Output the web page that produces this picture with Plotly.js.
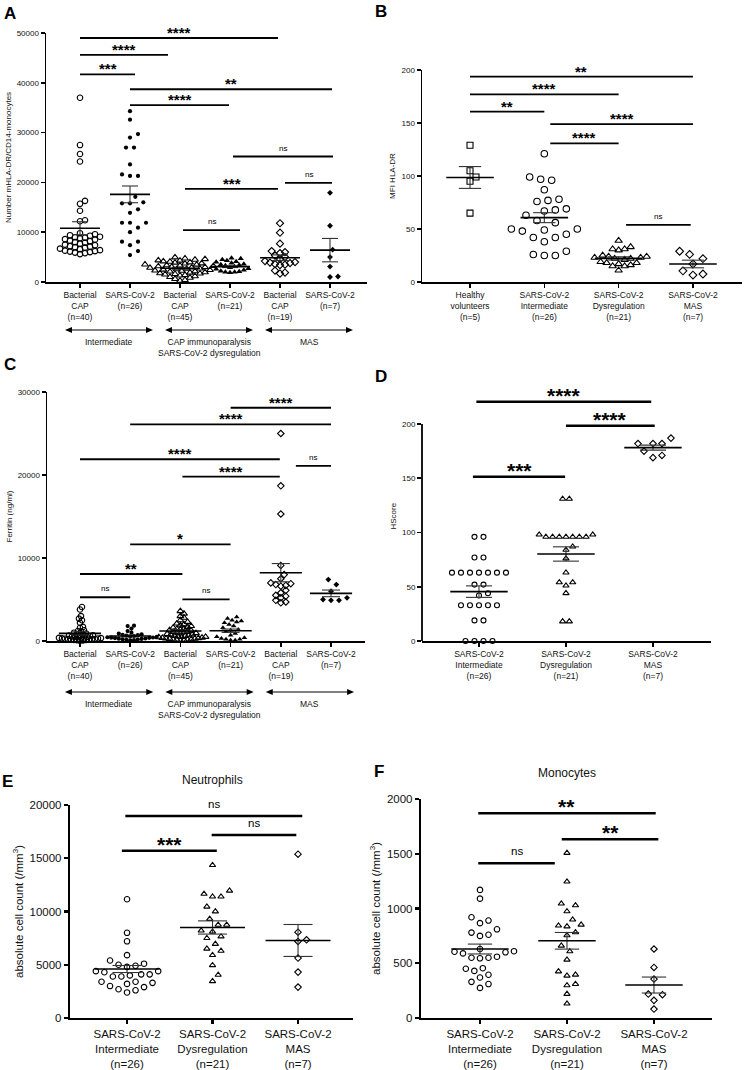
<!DOCTYPE html>
<html><head><meta charset="utf-8">
<script src="https://cdn.plot.ly/plotly-3.0.1.min.js"></script>
<style>html,body{margin:0;padding:0;background:#fff;}#chart{width:744px;height:1070px;}</style>
</head><body><div id="chart"></div>
<script>
// ================= DATA =================
// ---- Panel A : Number mHLA-DR/CD14-monocytes ----
const A_labels = ["Bacterial<br>CAP<br>(n=40)","SARS-CoV-2<br>(n=26)","Bacterial<br>CAP<br>(n=45)","SARS-CoV-2<br>(n=21)","Bacterial<br>CAP<br>(n=19)","SARS-CoV-2<br>(n=7)"];
const A_bacterialIntermediate = [37000,27500,25700,24200,16300,15700,14300,12400,12200,9800,9600,9400,9300,9100,9000,8900,8800,8600,8500,8300,8200,8000,7900,7700,7500,7400,7200,7100,7000,6900,6700,6600,6400,6300,6200,6100,6000,5900,5800,5600];
const A_sarsIntermediate = [34300,32600,29700,29000,27000,27000,23600,21600,21300,21300,17100,16000,15800,15800,14600,13900,11900,11900,11900,10900,10000,8100,8100,7400,6200,5400];
const A_bacterialImmunoparalysis = [4950,4720,4600,4480,4350,4300,4150,4080,3950,3900,3750,3700,3520,3480,3350,3300,3200,3150,3050,2980,2900,2850,2700,2650,2550,2480,2400,2300,2250,2150,2100,1950,1880,1750,1700,1600,1500,1420,1300,1150,1000,850,600,400,250];
const A_sarsDysregulation = [4800,4700,4500,4300,4100,4000,3800,3600,3500,3400,3300,3100,2900,2700,2600,2400,2200,2100,2000,2000,1900];
const A_bacterialMAS = [11800,9900,7700,6200,6000,5800,5300,5000,4600,4200,4000,3900,3800,3600,3500,3400,2300,1900,1700];
const A_sarsMAS = [17900,11300,6500,5000,3100,1100,1000];
const A_means = [10800,17600,2750,3080,4880,6400];
const A_sems = [1300,1680,200,180,560,2350];
const A_bracketFrom = [0,0,0,1,1,3.06,4.1,2.1,2.06];
const A_bracketTo = [3.96,1.76,1.1,5.04,2.98,5.06,5.04,3.96,3.2];
const A_bracketY = [49000,45600,41700,38700,35500,25200,19900,18700,10400];
const A_bracketLabel = ["****","****","***","**","****","ns","ns","***","ns"];
const A_groupLabels = ["Intermediate","CAP immunoparalysis<br>SARS-CoV-2 dysregulation","MAS"];

// ---- Panel B : MFI HLA-DR ----
const B_labels = ["Healthy<br>volunteers<br>(n=5)","SARS-CoV-2<br>Intermediate<br>(n=26)","SARS-CoV-2<br>Dysregulation<br>(n=21)","SARS-CoV-2<br>MAS<br>(n=7)"];
const B_healthy = [129,105,99,95,65];
const B_intermediate = [121,99,97,96,87,78,77,76,69,68,67,63,58,56,50,50,49,48,45,42,42,38,29,26,25,25];
const B_dysregulation = [39,33,31,31,30,25,24,24,23,23,22,22,21,19,18,18,17,16,15,15,11];
const B_mas = [29,26,22,17,10.5,7.5,6.5];
const B_means = [98.6,60.7,22.3,17];
const B_sems = [10.3,4.7,1.5,3.6];
const B_bracketFrom = [0,0,0,1.08,1.08,2.1];
const B_bracketTo = [3,2,1,3,2,2.97];
const B_bracketY = [193.7,177,160.7,149,130.8,53.8];
const B_bracketLabel = ["**","****","**","****","****","ns"];

// ---- Panel C : Ferritin (ng/ml) ----
const C_labels = A_labels;
const C_bacterialIntermediate = [4100,3800,3000,2700,2500,2200,1700,1600,1300,1200,1100,1000,900,850,800,750,700,650,600,550,500,480,450,420,400,380,350,320,300,280,250,220,200,180,160,140,120,100,80,50];
const C_sarsIntermediate = [1850,1800,1500,1200,1000,900,800,750,700,650,600,550,500,450,420,400,380,350,300,280,250,200,180,150,100,80];
const C_bacterialImmunoparalysis = [3600,3300,3000,2800,2500,2300,2100,2000,1900,1800,1700,1600,1500,1450,1400,1300,1250,1200,1100,1050,1000,950,900,850,800,750,700,650,600,550,500,480,450,400,380,350,300,280,250,200,180,150,120,100,60];
const C_sarsDysregulation = [2900,2700,2500,2400,2300,2200,2000,1800,1600,1400,1300,1100,900,700,500,400,300,200,200,100,100];
const C_bacterialMAS = [25000,18700,15300,9100,8000,7500,7000,6900,6800,6700,6600,6100,5800,5500,5400,5200,4900,4700,4600];
const C_sarsMAS = [7400,6800,6000,5200,5000,4900,4900];
const C_means = [920,600,1200,1240,8230,5740];
const C_sems = [190,110,130,200,1100,400];
const C_bracketFrom = [3,1,0,2.04,4.3,1,0,0,2.04];
const C_bracketTo = [5,5,3.98,3.98,5,3,2.04,1,2.98];
const C_bracketY = [28100,26100,21900,19800,21100,11650,8070,5270,5020];
const C_bracketLabel = ["****","****","****","****","ns","*","**","ns","ns"];
const C_groupLabels = A_groupLabels;

// ---- Panel D : HScore ----
const D_labels = ["SARS-CoV-2<br>Intermediate<br>(n=26)","SARS-CoV-2<br>Dysregulation<br>(n=21)","SARS-CoV-2<br>MAS<br>(n=7)"];
const D_intermediate = [96,96,77,77,63,63,63,63,63,63,63,52,52,44,42,33,33,33,33,33,19,19,0,0,0,0];
const D_dysregulation = [131,131,98,98,96,96,96,96,96,96,96,87,84,76,63,54,54,51,44,18,18];
const D_mas = [187,182,182,182,175,171,169];
const D_means = [45.5,80.2,178.2];
const D_sems = [5.3,6.6,2.3];
const D_bracketFrom = [-0.03,1,-0.07];
const D_bracketTo = [1.98,2.02,0.99];
const D_bracketY = [220.5,198.4,151.4];
const D_bracketLabel = ["****","****","***"];

// ---- Panel E : Neutrophils ----
const E_labels = D_labels;
const E_intermediate = [11150,8000,7200,5900,5400,5100,5000,4900,4800,4400,4400,4300,4100,4100,4000,3900,3900,3400,3400,3300,3200,3000,2900,2700,2600,2400];
const E_dysregulation = [14350,11650,11950,11400,11400,10450,10000,9300,8750,8750,8200,8100,7500,7650,6950,6300,6500,5900,4950,4050,3450];
const E_mas = [15380,8060,7340,7190,5630,4310,2900];
const E_means = [4600,8500,7280];
const E_sems = [330,620,1500];
const E_bracketFrom = [-0.02,0.99,-0.06];
const E_bracketTo = [2.05,1.98,1.05];
const E_bracketY = [18970,17180,15710];
const E_bracketLabel = ["ns","ns","***"];

// ---- Panel F : Monocytes ----
const F_labels = D_labels;
const F_intermediate = [1170,1090,890,866,920,810,760,750,780,600,590,605,610,630,560,545,550,550,430,450,455,370,395,330,310,275];
const F_dysregulation = [1507,1245,1044,1028,974,898,843,852,836,782,755,660,608,532,386,425,395,298,310,219,131];
const F_mas = [630,462,356,213,219,161,82];
const F_means = [630,705,301];
const F_sems = [45,76,73];
const F_bracketFrom = [-0.02,0.94,-0.02];
const F_bracketTo = [2.02,2.05,0.86];
const F_bracketY = [1869,1632,1413];
const F_bracketLabel = ["**","**","ns"];

// ================= DRAWING =================
const FONT = 'Arial, "Liberation Sans", Helvetica, sans-serif';
const W = 744, H = 1070;

const panels = [
  {letter:'A', letterPos:[2,13], box:[46,33,367,282], yrange:[0,50000], dtick:10000, xrange:[-0.68,5.74],
   labels:A_labels, groups:[A_bacterialIntermediate,A_sarsIntermediate,A_bacterialImmunoparalysis,A_sarsDysregulation,A_bacterialMAS,A_sarsMAS],
   symbols:['circle-open','circle','triangle-up-open','triangle-up','diamond-open','diamond'],
   msize:[5.5,4.2,6,5.5,5.5,4.5], collide:[5,8,5,4.6,5,8],
   means:A_means, sems:A_sems, meanHalf:0.4, semHalf:0.16,
   br:[A_bracketFrom,A_bracketTo,A_bracketY,A_bracketLabel], starSize:15, starShift:-5, nsSize:8, nsShift:2, brWidth:1.8,
   ytitle:'Number mHLA-DR/CD14-monocytes', ytitleSize:8, ytickSize:8, xtickSize:8.5, axisWidth:1.5,
   groupLabels:A_groupLabels, spans:[[0,1],[2,3],[4,5]], arrowPx:330, groupLabelPx:335},
  {letter:'B', letterPos:[373,11], box:[422,70,742,282], yrange:[0,200], dtick:50, xrange:[-0.646,3.66],
   labels:B_labels, groups:[B_healthy,B_intermediate,B_dysregulation,B_mas],
   symbols:['square-open','circle-open','triangle-up-open','diamond-open'],
   msize:[6,6.5,6.5,6], collide:[6,11,6,10],
   means:B_means, sems:B_sems, meanHalf:0.32, semHalf:0.15,
   br:[B_bracketFrom,B_bracketTo,B_bracketY,B_bracketLabel], starSize:15, starShift:-5, nsSize:8, nsShift:2, brWidth:1.8,
   ytitle:'MFI HLA-DR', ytitleSize:8, ytickSize:8, xtickSize:8.5, axisWidth:1.5},
  {letter:'C', letterPos:[2,364], box:[47,392,365,641], yrange:[0,30000], dtick:10000, xrange:[-0.657,5.677],
   labels:C_labels, groups:[C_bacterialIntermediate,C_sarsIntermediate,C_bacterialImmunoparalysis,C_sarsDysregulation,C_bacterialMAS,C_sarsMAS],
   symbols:['circle-open','circle','triangle-up-open','triangle-up','diamond-open','diamond'],
   msize:[5.5,4.2,6,5,5,4.5], collide:[3,3.8,3.6,4.6,5,8],
   means:C_means, sems:C_sems, meanHalf:0.42, semHalf:0.18,
   br:[C_bracketFrom,C_bracketTo,C_bracketY,C_bracketLabel], starSize:15, starShift:-5, nsSize:8, nsShift:2, brWidth:1.8,
   ytitle:'Ferritin (ng/ml)', ytitleSize:8, ytickSize:8, xtickSize:8.5, axisWidth:1.5,
   groupLabels:C_groupLabels, spans:[[0,1],[2,3],[4,5]], arrowPx:692, groupLabelPx:697},
  {letter:'D', letterPos:[373,376], box:[422,424,711,641], axisTop:200, yrange:[0,230], dtick:50, xrange:[-0.655,2.667],
   labels:D_labels, groups:[D_intermediate,D_dysregulation,D_mas],
   symbols:['circle-open','triangle-up-open','diamond-open'],
   msize:[5,5.5,5], collide:[9,6.7,9],
   means:D_means, sems:D_sems, meanHalf:0.33, semHalf:0.15,
   br:[D_bracketFrom,D_bracketTo,D_bracketY,D_bracketLabel], starSize:21, starShift:-7, nsSize:11, nsShift:3, brWidth:2.5,
   ytitle:'HScore', ytitleSize:8, ytickSize:8, xtickSize:8.5, axisWidth:1.8},
  {letter:'E', letterPos:[0,781], box:[70,805,353,1018], yrange:[0,20000], dtick:5000, xrange:[-0.667,2.643],
   labels:E_labels, groups:[E_intermediate,E_dysregulation,E_mas],
   symbols:['circle-open','triangle-up-open','diamond-open'],
   msize:[5.5,5.5,5], collide:[8.5,8.5,8.5],
   means:E_means, sems:E_sems, meanHalf:0.38, semHalf:0.17,
   br:[E_bracketFrom,E_bracketTo,E_bracketY,E_bracketLabel], starSize:21, starShift:-7, nsSize:11.5, nsShift:4, brWidth:2.5,
   ytitle:'absolute cell count (/mm<sup>3</sup>)', ytitleSize:11.5, ytickSize:11.5, xtickSize:11.5, axisWidth:2.2,
   title:'Neutrophils', titlePos:[212,780]},
  {letter:'F', letterPos:[372,771], box:[421,799,712,1018], yrange:[0,2000], dtick:500, xrange:[-0.678,2.667],
   labels:F_labels, groups:[F_intermediate,F_dysregulation,F_mas],
   symbols:['circle-open','triangle-up-open','diamond-open'],
   msize:[5.5,5.5,5], collide:[8.5,8.5,8.5],
   means:F_means, sems:F_sems, meanHalf:0.33, semHalf:0.14,
   br:[F_bracketFrom,F_bracketTo,F_bracketY,F_bracketLabel], starSize:21, starShift:-7, nsSize:11.5, nsShift:4, brWidth:2.5,
   ytitle:'absolute cell count (/mm<sup>3</sup>)', ytitleSize:11.5, ytickSize:11.5, xtickSize:11.5, axisWidth:2.2,
   title:'Monocytes', titlePos:[567,773]}
];

// deterministic beeswarm: horizontal offsets (px) so markers do not overlap
function swarm(vals, pxPerVal, c) {
  const n = vals.length, xs = new Array(n).fill(0), ys = vals.map(v => v * pxPerVal);
  const order = vals.map((v, i) => i).sort((a, b) => vals[a] - vals[b]);
  const placed = [], step = c / 3, c2 = c * c * 0.97;
  const collides = (x, y, skip) => placed.some(p => !(skip && skip.has(p)) && ((p.x - x) ** 2 + (p.y - y) ** 2 < c2));
  for (const i of order) {
    for (let k = 0; k < 2000; k++) {
      const x = Math.ceil(k / 2) * (k % 2 === 1 ? 1 : -1) * step;
      if (!collides(x, ys[i])) { xs[i] = x; placed.push({x, y: ys[i], i}); break; }
    }
  }
  // centre rows of identical values
  const byVal = {};
  placed.forEach(p => { (byVal[vals[p.i]] = byVal[vals[p.i]] || []).push(p); });
  Object.values(byVal).forEach(g => {
    if (g.length < 2) return;
    const shift = -g.reduce((s, p) => s + p.x, 0) / g.length;
    const skip = new Set(g);
    if (g.every(p => !collides(p.x + shift, p.y, skip))) g.forEach(p => { p.x += shift; xs[p.i] = p.x; });
  });
  return xs;
}

const traces = [];
const layout = {width: W, height: H, margin: {l: 0, r: 0, t: 0, b: 0}, showlegend: false,
  paper_bgcolor: '#ffffff', plot_bgcolor: 'rgba(0,0,0,0)', font: {family: FONT, color: '#000'},
  annotations: [], shapes: []};

panels.forEach((P, idx) => {
  const sfx = idx === 0 ? '' : String(idx + 1);
  const xa = 'x' + sfx, ya = 'y' + sfx;
  const [l, t, r, b] = P.box;
  const axisTop = P.axisTop !== undefined ? P.axisTop : P.yrange[1];
  const pxPerVal = (b - t) / (axisTop - P.yrange[0]);
  const topPx = b - (P.yrange[1] - P.yrange[0]) * pxPerVal;
  const pxPerCat = (r - l) / (P.xrange[1] - P.xrange[0]);

  layout['xaxis' + sfx] = {domain: [l / W, r / W], anchor: ya, range: P.xrange, fixedrange: true,
    tickmode: 'array', tickvals: P.labels.map((_, i) => i), ticktext: P.labels,
    ticks: 'outside', ticklen: 4, tickwidth: P.axisWidth, tickcolor: '#000',
    showline: true, linecolor: '#000', linewidth: P.axisWidth, showgrid: false, zeroline: false,
    tickfont: {size: P.xtickSize, family: FONT, color: '#111'}, automargin: false};
  layout['yaxis' + sfx] = {domain: [1 - b / H, 1 - topPx / H], anchor: xa, range: P.yrange, fixedrange: true,
    tickmode: 'linear', tick0: 0, dtick: P.dtick, tickformat: 'd',
    ticks: 'outside', ticklen: 4, tickwidth: P.axisWidth, tickcolor: '#000',
    showline: P.axisTop === undefined, linecolor: '#000', linewidth: P.axisWidth, showgrid: false, zeroline: false,
    tickfont: {size: P.ytickSize, family: FONT, color: '#111'},
    title: {text: P.ytitle, font: {size: P.ytitleSize, family: FONT, color: '#111'}, standoff: 4}, automargin: false};
  if (P.axisTop !== undefined) {
    layout.shapes.push({type: 'line', xref: 'paper', yref: 'paper', x0: l / W, x1: l / W, y0: 1 - b / H, y1: 1 - t / H,
      line: {color: '#000', width: P.axisWidth}});
  }

  // points
  P.groups.forEach((vals, gi) => {
    const offs = swarm(vals, pxPerVal, P.collide[gi]);
    const open = P.symbols[gi].endsWith('-open');
    traces.push({type: 'scatter', mode: 'markers', xaxis: xa, yaxis: ya, cliponaxis: false, hoverinfo: 'skip',
      x: vals.map((v, i) => gi + offs[i] / pxPerCat), y: vals,
      marker: {symbol: P.symbols[gi], size: P.msize[gi], color: '#000',
        line: {color: '#000', width: open ? 1.1 : 0}}});
  });

  // mean and SEM
  const mx = [], my = [], sx = [], sy = [];
  P.means.forEach((m, i) => {
    const s = P.sems[i];
    mx.push(i - P.meanHalf, i + P.meanHalf, null); my.push(m, m, null);
    sx.push(i, i, null, i - P.semHalf, i + P.semHalf, null, i - P.semHalf, i + P.semHalf, null);
    sy.push(m - s, m + s, null, m + s, m + s, null, m - s, m - s, null);
  });
  traces.push({type: 'scatter', mode: 'lines', xaxis: xa, yaxis: ya, x: sx, y: sy, hoverinfo: 'skip',
    line: {color: '#333', width: 1.1}});
  traces.push({type: 'scatter', mode: 'lines', xaxis: xa, yaxis: ya, x: mx, y: my, hoverinfo: 'skip',
    line: {color: '#000', width: 1.6}});

  // significance brackets
  const bx = [], by = [];
  const [bf, bt, byv, bl] = P.br;
  bf.forEach((f, i) => {
    bx.push(f, bt[i], null); by.push(byv[i], byv[i], null);
    const ns = bl[i] === 'ns';
    layout.annotations.push({xref: xa, yref: ya, x: (f + bt[i]) / 2, y: byv[i], text: ns ? 'ns' : '<b>' + bl[i] + '</b>',
      showarrow: false, xanchor: 'center', yanchor: 'bottom', yshift: ns ? P.nsShift : P.starShift,
      font: {size: ns ? P.nsSize : P.starSize, family: FONT, color: '#000'}});
  });
  traces.push({type: 'scatter', mode: 'lines', xaxis: xa, yaxis: ya, x: bx, y: by, hoverinfo: 'skip',
    line: {color: '#000', width: P.brWidth}});

  // group arrows (panels A and C): line + two filled heads
  if (P.groupLabels) {
    const yA = 1 - P.arrowPx / H, hx = 7 / pxPerCat, hy = 3 / H;
    P.spans.forEach((sp, gi) => {
      const x0 = sp[0] - 0.3, x1 = sp[1] + 0.46;
      layout.shapes.push({type: 'line', xref: xa, yref: 'paper', x0: x0 + hx * 0.5, x1: x1 - hx * 0.5, y0: yA, y1: yA,
        line: {color: '#000', width: 1.2}});
      layout.shapes.push({type: 'path', xref: xa, yref: 'paper', fillcolor: '#000', line: {width: 0},
        path: `M${x1},${yA} L${x1 - hx},${yA + hy} L${x1 - hx},${yA - hy} Z`});
      layout.shapes.push({type: 'path', xref: xa, yref: 'paper', fillcolor: '#000', line: {width: 0},
        path: `M${x0},${yA} L${x0 + hx},${yA + hy} L${x0 + hx},${yA - hy} Z`});
      layout.annotations.push({xref: xa, yref: 'paper', x: (x0 + x1) / 2, y: 1 - P.groupLabelPx / H,
        text: P.groupLabels[gi], showarrow: false, xanchor: 'center', yanchor: 'top',
        font: {size: 8.5, family: FONT, color: '#111'}});
    });
  }

  // panel letter
  layout.annotations.push({xref: 'paper', yref: 'paper', x: P.letterPos[0] / W, y: 1 - P.letterPos[1] / H,
    text: '<b>' + P.letter + '</b>', showarrow: false, xanchor: 'left', yanchor: 'middle',
    font: {size: 17, family: FONT, color: '#000'}});
  if (P.title) {
    layout.annotations.push({xref: 'paper', yref: 'paper', x: P.titlePos[0] / W, y: 1 - P.titlePos[1] / H,
      text: P.title, showarrow: false, xanchor: 'center', yanchor: 'middle',
      font: {size: 12, family: FONT, color: '#111'}});
  }
});

Plotly.newPlot('chart', traces, layout, {staticPlot: true, displayModeBar: false});
</script>
</body></html>
